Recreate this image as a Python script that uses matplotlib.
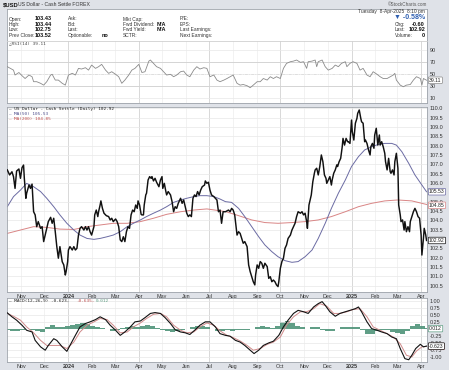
import pandas as pd
import matplotlib
matplotlib.use("Agg")
import matplotlib.pyplot as plt
from matplotlib.transforms import blended_transform_factory

plt.rcParams['font.family'] = ['Liberation Sans', 'DejaVu Sans']

W, H = 449, 370
START = pd.Timestamp("2023-10-14")

# (day offset from START, value)
price_points = [
    (0, 106.70), (3, 106.43), (6, 106.60), (8, 106.34), (10, 105.71), (12, 106.64), (15, 106.75),
    (17, 106.25), (19, 106.82), (21, 106.96), (22, 106.25), (24, 105.18), (25, 105.45), (28, 105.89),
    (30, 105.71), (32, 105.94), (34, 104.46), (36, 104.29), (38, 103.66), (40, 103.93), (43, 103.57),
    (45, 103.66), (47, 102.86), (49, 103.21), (51, 103.57), (53, 103.93), (56, 104.16), (58, 103.84),
    (60, 104.11), (62, 103.39), (64, 102.59), (66, 101.97), (68, 102.59), (69, 102.32), (71, 101.78),
    (73, 101.61), (75, 101.07), (76, 101.25), (78, 101.78), (79, 102.41), (81, 102.59), (84, 102.41),
    (86, 102.59), (88, 102.41), (90, 102.50), (92, 103.21), (94, 103.57), (96, 103.66), (99, 103.48),
    (101, 103.66), (103, 103.48), (105, 103.66), (107, 103.39), (109, 103.21), (112, 103.66),
    (113, 104.29), (115, 104.55), (117, 104.20), (118, 104.46), (120, 104.82), (121, 105.04),
    (123, 104.64), (125, 104.38), (128, 104.25), (131, 104.20), (133, 104.02), (135, 104.11),
    (137, 103.93), (140, 104.07), (142, 103.93), (144, 103.66), (146, 102.95), (148, 102.86),
    (150, 103.12), (152, 102.86), (154, 103.39), (156, 103.66), (158, 103.57), (160, 104.29),
    (162, 104.55), (164, 104.46), (166, 104.82), (168, 104.64), (169, 105.04), (171, 104.82),
    (173, 104.32), (174, 104.29), (176, 104.29), (177, 104.82), (179, 105.36), (180, 105.45),
    (182, 106.16), (184, 106.34), (186, 106.25), (187, 106.34), (189, 106.11), (191, 106.25),
    (193, 106.04), (196, 105.80), (198, 106.16), (200, 106.34), (201, 105.71), (203, 105.98),
    (205, 105.54), (206, 105.36), (208, 105.54), (211, 105.36), (213, 105.00), (215, 104.46),
    (217, 104.73), (219, 104.64), (221, 104.91), (224, 105.18), (226, 104.91), (228, 105.09),
    (230, 104.73), (232, 104.38), (234, 104.20), (236, 104.29), (238, 104.20), (240, 105.18),
    (242, 105.36), (244, 105.27), (246, 105.54), (248, 105.36), (250, 105.62), (252, 105.80),
    (255, 105.89), (256, 106.11), (258, 105.98), (260, 106.04), (262, 105.62), (264, 105.36),
    (267, 105.27), (269, 105.18), (271, 105.09), (273, 104.46), (275, 104.55), (277, 103.84),
    (279, 104.46), (282, 104.46), (286, 104.55), (288, 104.46), (290, 104.64), (292, 104.55),
    (294, 104.29), (297, 103.21), (299, 103.39), (301, 103.30), (303, 103.03), (305, 102.77),
    (307, 102.86), (310, 102.59), (312, 101.61), (314, 101.25), (316, 100.98), (318, 100.71),
    (320, 100.54), (321, 101.07), (323, 101.61), (325, 101.43), (327, 101.79), (329, 101.70),
    (331, 101.43), (333, 101.70), (336, 101.52), (338, 100.89), (340, 100.98), (342, 100.71),
    (344, 100.80), (346, 100.71), (348, 100.54), (350, 100.45), (351, 100.71), (353, 101.43),
    (355, 101.79), (357, 101.97), (359, 102.50), (361, 102.68), (363, 103.03), (366, 103.21),
    (368, 103.48), (370, 103.66), (372, 103.84), (374, 104.20), (376, 104.46), (379, 104.38),
    (381, 104.46), (383, 104.29), (385, 104.38), (387, 103.93), (388, 103.57), (390, 104.82),
    (392, 105.18), (393, 105.36), (395, 106.07), (397, 106.52), (398, 106.70), (400, 106.79),
    (402, 106.43), (404, 106.88), (406, 107.50), (408, 107.14), (410, 106.43), (412, 106.25),
    (413, 105.98), (415, 106.16), (417, 106.34), (419, 105.89), (420, 106.16), (422, 106.52),
    (424, 106.70), (426, 106.97), (427, 106.88), (429, 107.14), (431, 107.32), (433, 107.94),
    (434, 108.39), (436, 108.03), (438, 108.39), (440, 108.21), (441, 108.21), (443, 108.12),
    (445, 109.37), (446, 108.75), (448, 108.30), (450, 109.20), (452, 109.46), (453, 109.73),
    (455, 109.91), (457, 109.46), (458, 109.28), (460, 109.20), (462, 108.21), (463, 108.30),
    (465, 108.12), (467, 107.77), (469, 107.50), (470, 107.94), (472, 108.12), (474, 107.86),
    (475, 108.57), (477, 108.93), (479, 108.03), (481, 108.57), (482, 108.03), (484, 108.21),
    (486, 107.94), (488, 107.59), (489, 107.14), (491, 106.70), (493, 107.32), (495, 106.61),
    (496, 106.52), (498, 106.70), (500, 106.43), (501, 107.14), (503, 107.59), (505, 106.79),
    (506, 104.82), (508, 104.29), (509, 103.93), (511, 104.02), (513, 103.48), (514, 103.93),
    (516, 103.39), (518, 103.66), (520, 103.39), (521, 103.93), (523, 104.20), (525, 104.46),
    (527, 104.64), (529, 104.46), (531, 104.20), (533, 104.11), (535, 103.21), (536, 102.14),
    (538, 103.03), (539, 103.57), (541, 103.21), (542, 102.92),
]

ma50_points = [
    (0, 104.73), (8, 105.27), (17, 105.62), (25, 105.98), (34, 105.80), (43, 105.54), (51, 105.18),
    (60, 104.73), (68, 104.29), (77, 103.84), (86, 103.48), (94, 103.21), (103, 103.03), (112, 102.98),
    (120, 103.03), (129, 103.12), (137, 103.21), (146, 103.39), (155, 103.66), (163, 103.84),
    (172, 104.02), (180, 104.20), (189, 104.38), (198, 104.55), (206, 104.73), (215, 104.96),
    (224, 105.09), (232, 105.18), (241, 105.27), (249, 105.32), (258, 105.32), (267, 105.27),
    (275, 105.14), (282, 105.00), (290, 104.96), (299, 104.64), (307, 104.20), (316, 103.66),
    (325, 103.12), (333, 102.68), (342, 102.32), (350, 102.05), (359, 101.84), (368, 101.75),
    (376, 101.79), (385, 102.05), (394, 102.41), (402, 103.03), (411, 103.84), (419, 104.64),
    (428, 105.45), (437, 106.16), (445, 106.88), (454, 107.41), (462, 107.77), (471, 107.94),
    (480, 108.07), (488, 108.12), (497, 108.12), (503, 108.03), (510, 107.68), (519, 107.05),
    (527, 106.43), (536, 105.89), (542, 105.53),
]

ma200_points = [
    (0, 103.30), (17, 103.48), (34, 103.66), (51, 103.62), (68, 103.53), (86, 103.51), (103, 103.66),
    (120, 103.75), (137, 103.84), (155, 103.84), (172, 103.93), (189, 104.11), (206, 104.32),
    (224, 104.46), (241, 104.55), (258, 104.61), (282, 104.47), (299, 104.25), (316, 104.02),
    (333, 103.88), (350, 103.84), (368, 103.88), (385, 103.93), (402, 104.02), (419, 104.20),
    (437, 104.46), (454, 104.73), (471, 104.91), (488, 105.04), (505, 105.09), (523, 105.04),
    (542, 104.85),
]

rsi_points = [
    (0, 61.7), (4, 58.9), (8, 56.0), (10, 47.8), (15, 52.0), (19, 46.7), (23, 42.0), (28, 47.8),
    (32, 45.0), (34, 36.7), (38, 36.7), (43, 34.0), (47, 31.0), (51, 36.7), (56, 47.8), (58, 49.0),
    (62, 39.4), (66, 39.4), (71, 34.0), (75, 31.0), (79, 47.8), (84, 50.6), (88, 47.8), (92, 58.9),
    (96, 57.8), (101, 60.0), (105, 56.0), (109, 64.4), (114, 58.9), (118, 61.7), (122, 65.6),
    (127, 56.0), (131, 50.6), (135, 53.3), (140, 49.0), (144, 45.0), (148, 34.0), (152, 39.4),
    (157, 47.8), (161, 56.0), (165, 58.9), (170, 65.6), (174, 52.0), (178, 53.3), (183, 71.0),
    (185, 72.8), (189, 67.2), (193, 61.7), (198, 58.9), (202, 53.3), (206, 47.8), (211, 49.0),
    (215, 45.0), (219, 47.8), (224, 53.3), (228, 54.4), (232, 47.8), (236, 45.0), (241, 56.0),
    (245, 61.7), (249, 57.8), (254, 60.0), (258, 58.9), (262, 45.0), (267, 47.8), (271, 39.4),
    (275, 36.7), (280, 39.4), (284, 42.0), (288, 45.0), (292, 47.8), (297, 34.0), (301, 31.0),
    (305, 32.0), (310, 30.0), (314, 26.7), (318, 31.0), (323, 36.7), (327, 36.7), (331, 42.0),
    (336, 39.4), (340, 45.0), (344, 42.0), (348, 45.0), (353, 42.0), (357, 58.9), (361, 67.2),
    (366, 70.0), (370, 71.0), (374, 72.8), (379, 68.9), (383, 70.0), (387, 58.9), (389, 70.0),
    (394, 71.0), (398, 72.8), (400, 61.7), (402, 70.0), (407, 72.8), (411, 61.7), (415, 56.0),
    (420, 58.9), (424, 64.4), (428, 61.7), (432, 67.2), (437, 70.0), (439, 61.7), (443, 67.2),
    (447, 70.0), (452, 67.2), (456, 56.0), (460, 58.9), (465, 47.8), (469, 45.0), (473, 53.3),
    (478, 49.0), (482, 45.0), (486, 42.0), (491, 42.0), (495, 45.0), (499, 47.8), (501, 50.6),
    (503, 39.4), (508, 31.0), (512, 28.3), (516, 31.0), (521, 32.0), (525, 39.4), (529, 45.0),
    (534, 42.0), (536, 31.0), (538, 42.0), (542, 39.11),
]

macd_points = [
    (0, 0.56), (6, 0.42), (12, 0.30), (19, 0.12), (25, -0.06), (32, -0.12), (36, -0.42), (43, -0.65),
    (49, -0.77), (53, -0.60), (60, -0.36), (64, -0.42), (71, -0.65), (77, -0.81), (81, -0.60),
    (88, -0.24), (94, 0.06), (101, 0.18), (107, 0.24), (114, 0.32), (120, 0.42), (127, 0.32),
    (133, 0.12), (140, -0.06), (146, -0.24), (152, -0.12), (159, 0.06), (165, 0.24), (172, 0.27),
    (178, 0.39), (185, 0.54), (191, 0.57), (198, 0.54), (204, 0.39), (211, 0.18), (217, -0.04),
    (224, -0.12), (230, -0.15), (236, -0.21), (243, -0.04), (249, 0.12), (256, 0.24), (262, 0.24),
    (269, 0.06), (275, -0.18), (282, -0.24), (288, -0.27), (295, -0.42), (301, -0.48), (307, -0.60),
    (314, -0.77), (319, -0.89), (325, -0.77), (331, -0.60), (338, -0.51), (344, -0.45), (351, -0.24),
    (357, 0.06), (363, 0.30), (370, 0.54), (376, 0.65), (383, 0.60), (389, 0.54), (396, 0.77),
    (402, 0.89), (407, 0.96), (411, 0.83), (417, 0.60), (424, 0.44), (430, 0.54), (437, 0.60),
    (443, 0.65), (450, 0.71), (454, 0.77), (458, 0.60), (465, 0.24), (471, 0.00), (478, -0.06),
    (484, -0.12), (491, -0.18), (497, -0.30), (503, -0.36), (508, -0.71), (514, -1.07), (519, -1.11),
    (523, -0.95), (528, -0.71), (534, -0.56), (538, -0.65), (542, -0.623),
]

signal_points = [
    (0, 0.54), (8, 0.44), (17, 0.30), (25, 0.06), (34, -0.15), (43, -0.42), (51, -0.60), (60, -0.60),
    (68, -0.60), (77, -0.71), (86, -0.48), (94, -0.12), (103, 0.12), (112, 0.24), (120, 0.36),
    (129, 0.32), (137, 0.12), (146, -0.15), (155, -0.12), (163, 0.06), (172, 0.20), (180, 0.36),
    (189, 0.51), (198, 0.54), (206, 0.42), (215, 0.12), (224, -0.06), (232, -0.15), (241, -0.12),
    (249, 0.06), (258, 0.20), (267, 0.12), (275, -0.08), (284, -0.24), (292, -0.32), (301, -0.44),
    (310, -0.60), (318, -0.77), (327, -0.71), (336, -0.56), (344, -0.48), (353, -0.30), (361, 0.12),
    (370, 0.42), (379, 0.60), (387, 0.60), (396, 0.71), (404, 0.89), (413, 0.80), (422, 0.54),
    (430, 0.54), (439, 0.60), (447, 0.68), (456, 0.71), (465, 0.42), (473, 0.06), (482, -0.06),
    (491, -0.18), (499, -0.30), (508, -0.54), (516, -0.95), (523, -1.01), (529, -0.80), (536, -0.65),
    (542, -0.635),
]

hist_points = [
    (0, -0.05), (7, -0.07), (13, -0.08), (20, -0.04), (26, -0.02), (33, -0.06), (39, -0.10),
    (46, -0.12), (52, 0.06), (59, 0.12), (65, 0.06), (71, 0.04), (78, 0.08), (84, 0.12), (91, 0.17),
    (97, 0.20), (104, 0.15), (110, 0.10), (117, 0.06), (123, 0.02), (130, -0.03), (136, -0.07),
    (143, -0.05), (149, 0.03), (155, 0.07), (162, 0.09), (168, 0.06), (175, 0.08), (181, 0.12),
    (188, 0.08), (194, 0.02), (201, -0.05), (207, -0.10), (214, -0.12), (220, -0.08), (227, -0.04),
    (233, -0.02), (239, 0.04), (246, 0.08), (252, 0.08), (259, 0.04), (265, -0.02), (272, -0.08),
    (278, -0.10), (285, -0.06), (291, -0.08), (298, -0.06), (304, -0.04), (311, -0.05), (317, -0.03),
    (323, 0.04), (330, 0.08), (336, 0.06), (343, 0.03), (349, 0.10), (356, 0.22), (362, 0.28),
    (369, 0.20), (375, 0.10), (382, 0.05), (388, -0.03), (394, 0.05), (401, 0.06), (407, -0.04),
    (414, -0.10), (420, -0.08), (427, -0.02), (433, 0.04), (440, 0.05), (446, 0.04), (453, 0.06),
    (459, -0.04), (466, -0.18), (472, -0.20), (478, -0.10), (485, -0.06), (491, -0.05), (498, -0.12),
    (504, -0.15), (511, -0.18), (517, -0.10), (524, 0.10), (530, 0.18), (537, 0.08), (542, 0.012),
]

month_labels = ["Nov", "Dec", "2024", "Feb", "Mar", "Apr", "May", "Jun", "Jul", "Aug", "Sep", "Oct",
                "Nov", "Dec", "2025", "Feb", "Mar", "Apr"]
# 103.0 and 105.5 sit under the value boxes on the reference
price_ticks = [100.5, 101.0, 101.5, 102.0, 102.5, 103.5, 104.0, 104.5, 105.0, 106.0,
               106.5, 107.0, 107.5, 108.0, 108.5, 109.0, 109.5, 110.0]
rsi_ticks = [10, 30, 50, 70, 90]
macd_ticks = [1.00, 0.75, 0.50, 0.25, -0.25, -0.50, -0.75, -1.00]


def series(points):
    days, vals = zip(*points)
    return START + pd.to_timedelta(list(days), unit="D"), list(vals)


month_ticks = pd.date_range("2023-11-01", periods=len(month_labels), freq="MS")
xmin = START - pd.Timedelta(days=0.4)
xmax = START + pd.Timedelta(days=542.6)

BG = '#dfe2e8'
fig = plt.figure(figsize=(W / 100, H / 100), dpi=100, facecolor=BG)


def box(top, bottom):
    return [7 / W, 1 - bottom / H, 420 / W, (bottom - top) / H]


def put(x, y, s, **kw):
    kw.setdefault('va', 'center')
    kw.setdefault('fontsize', 3.5)
    kw.setdefault('color', '#333333')
    fig.text(x / W, 1 - y / H, s, **kw)


def style_panel(ax, yticks, fmt, show_x):
    ax.set_facecolor('white')
    ax.set_xlim(xmin, xmax)
    for d in month_ticks:
        quarter = d.month in (1, 4, 7, 10)
        ax.axvline(d, color='#c9c9c9' if quarter else '#ededed', lw=0.5, zorder=0)
    ax.set_yticks(yticks)
    ax.set_yticklabels([fmt % v for v in yticks])
    ax.yaxis.tick_right()
    ax.grid(axis='y', color='#e8e8e8', lw=0.5, zorder=0)
    ax.tick_params(axis='both', length=0, labelsize=3.9, colors='#333333', pad=2)
    ax.set_xticks(month_ticks)
    if show_x:
        ax.set_xticklabels(month_labels)
        for t, lab in zip(ax.get_xticklabels(), month_labels):
            if lab.isdigit():
                t.set_fontweight('bold')
        ax.tick_params(axis='x', pad=1.2)
    else:
        ax.set_xticklabels([])
    for s in ax.spines.values():
        s.set_color('#9ea3ab')
        s.set_linewidth(0.6)


def tag(ax, y, text, edge, dy=0.0):
    tr = blended_transform_factory(ax.transAxes, ax.transData)
    ax.annotate(text, xy=(1, y), xycoords=tr, xytext=(1.5, dy), textcoords='offset points',
                va='center', ha='left', fontsize=3.7, color='#222222', annotation_clip=False,
                bbox=dict(boxstyle='round,pad=0.15', fc='white', ec=edge, lw=0.5), zorder=5)


# header / info box
ax_info = fig.add_axes(box(9, 41))
ax_info.set_xticks([])
ax_info.set_yticks([])
for s in ax_info.spines.values():
    s.set_color('#9ea3ab')
    s.set_linewidth(0.6)

put(3, 5, "$USD", fontweight='bold', fontsize=4.2, color='#111111')
put(18, 5, "US Dollar - Cash Settle FOREX", fontsize=3.7)
put(427, 4.5, "\u00a9StockCharts.com", ha='right', fontsize=3.3, color='#555555')

info_rows = [19, 24.3, 29.7, 35.4]
col1 = ["Open:", "High:", "Low:", "Prev Close:"]
col1_vals = ["103.43", "103.44", "102.75", "103.52"]
col2 = ["Ask:", "Bid:", "Last:", "Optionable:"]
col3 = ["Mkt Cap:", "Fwd Dividend:", "Fwd Yield:", "SCTR:"]
col4 = ["P/E:", "EPS:", "Last Earnings:", "Next Earnings:"]
for y, a, av, b, c, d in zip(info_rows, col1, col1_vals, col2, col3, col4):
    put(9, y, a)
    put(35, y, av, fontweight='bold', fontsize=4, color='#111111')
    put(68, y, b)
    put(123, y, c)
    put(180, y, d)
put(102, info_rows[3], "no", fontweight='bold', fontsize=4, color='#111111')
put(157, info_rows[1], "N/A", fontweight='bold', fontsize=4, color='#111111')
put(157, info_rows[2], "N/A", fontweight='bold', fontsize=4, color='#111111')

put(425, 11.5, "Tuesday  8-Apr-2025  8:10 pm", ha='right', fontsize=3.5)
put(425, 17.8, "\u25bc -0.58%", ha='right', fontweight='bold', fontsize=5, color='#2f5fb0')
for y, lab, val in zip(info_rows[1:], ["Chg:", "Last:", "Volume:"], ["-0.60", "102.92", "0"]):
    put(395, y, lab)
    put(425, y, val, ha='right', fontweight='bold', fontsize=4, color='#111111')

# RSI panel
ax_rsi = fig.add_axes(box(41, 103))
style_panel(ax_rsi, rsi_ticks, "%d", False)
ax_rsi.set_ylim(1.2, 104.5)
ax_rsi.axhline(70, color='#9a9a9a', lw=0.6, zorder=1)
ax_rsi.axhline(30, color='#9a9a9a', lw=0.6, zorder=1)
ax_rsi.axhline(50, color='#b0b0b0', lw=0.5, ls=(0, (4, 2, 1, 2)), zorder=1)
rx, ry = series(rsi_points)
ax_rsi.plot(rx, ry, color='#8a8a8a', lw=0.6, zorder=3)
ax_rsi.spines['top'].set_color('#d0d0d0')
tag(ax_rsi, 39.11, "39.11", '#8a8a8a')
put(9, 43.5, "\u25b3RSI(14) 39.11", family='DejaVu Sans Mono', fontsize=3.2, color='#444444')

# price panel
ax = fig.add_axes(box(107, 292))
style_panel(ax, price_ticks, "%.1f", True)
ax.set_ylim(100.16, 110.07)
px, py = series(price_points)
mx, my = series(ma50_points)
lx, ly = series(ma200_points)
ax.plot(lx, ly, color='#d98585', lw=0.7, zorder=2)
ax.plot(mx, my, color='#6b6ba3', lw=0.7, zorder=2)
ax.plot(px, py, color='#111111', lw=1.05, zorder=3)
tag(ax, 105.53, "105.53", '#6b6ba3')
tag(ax, 104.85, "104.85", '#d98585', dy=-0.6)
tag(ax, 102.92, "102.92", '#111111')
put(9, 109.3, "\u2014 US Dollar - Cash Settle (Daily) 102.92", family='DejaVu Sans Mono',
    fontsize=3.2, color='#222222')
put(9, 114.3, "\u2014", family='DejaVu Sans Mono', fontsize=3.2, color='#6b6ba3')
put(14, 114.3, "MA(50) 105.53", family='DejaVu Sans Mono', fontsize=3.2, color='#4a4a8a')
put(9, 119.3, "\u2014", family='DejaVu Sans Mono', fontsize=3.2, color='#d98585')
put(14, 119.3, "MA(200) 104.85", family='DejaVu Sans Mono', fontsize=3.2, color='#c05050')

# MACD panel
ax_m = fig.add_axes(box(298, 362))
style_panel(ax_m, macd_ticks, "%.2f", True)
ax_m.set_ylim(-1.19, 1.09)
hx, hy = series(hist_points)
ax_m.bar(hx, hy, width=6.6, color='#4f9479', edgecolor='none', alpha=0.9, zorder=1)
sx, sy = series(signal_points)
cx, cy = series(macd_points)
ax_m.plot(sx, sy, color='#d08a8a', lw=0.7, zorder=2)
ax_m.plot(cx, cy, color='#111111', lw=0.8, zorder=3)
tag(ax_m, 0.0, "0.012", '#5e9e84')
tag(ax_m, -0.635, "-0.635", '#d08a8a')
tag(ax_m, -0.623, "-0.623", '#111111')
put(9, 300.5, "\u2014 MACD(12,26,9) -0.623,", family='DejaVu Sans Mono', fontsize=3.2,
    color='#222222')
put(76, 300.5, "-0.635,", family='DejaVu Sans Mono', fontsize=3.2, color='#c05050')
put(95.5, 300.5, "0.012", family='DejaVu Sans Mono', fontsize=3.2, color='#5e9e84')

fig.savefig("out.png", dpi=100, facecolor=BG)
